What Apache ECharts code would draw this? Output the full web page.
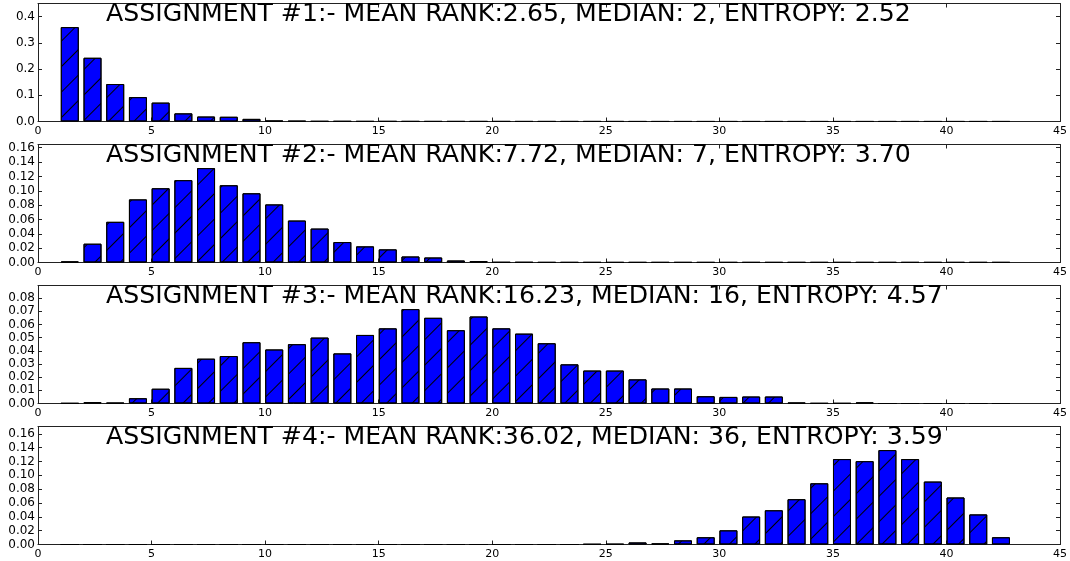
<!DOCTYPE html>
<html><head><meta charset="utf-8">
<script src="https://cdn.jsdelivr.net/npm/echarts@6/dist/echarts.min.js"></script>
<style>html,body{margin:0;padding:0;background:#fff}#c{width:1070px;height:561px}</style>
</head><body><div id="c"></div>
<script>
const ranks = [1,2,3,4,5,6,7,8,9,10,11,12,13,14,15,16,17,18,19,20,21,22,23,24,25,26,27,28,29,30,31,32,33,34,35,36,37,38,39,40,41,42];
const xTicks = [0,5,10,15,20,25,30,35,40,45];
const titles = [
  "ASSIGNMENT #1:- MEAN RANK:2.65, MEDIAN: 2, ENTROPY: 2.52",
  "ASSIGNMENT #2:- MEAN RANK:7.72, MEDIAN: 7, ENTROPY: 3.70",
  "ASSIGNMENT #3:- MEAN RANK:16.23, MEDIAN: 16, ENTROPY: 4.57",
  "ASSIGNMENT #4:- MEAN RANK:36.02, MEDIAN: 36, ENTROPY: 3.59"
];
const assign1 = [0.360,0.243,0.143,0.093,0.072,0.031,0.019,0.018,0.010,0.003,0.002,0.001,0.001,0.0008,0.0008,0.0006,0.0005,0.0005,0.0005,0.0005,0.0004,0.0004,0.0004,0.0004,0.0004,0.0003,0.0003,0.0003,0.0003,0.0003,0.0003,0.0003,0.0003,0.0003,0.0003,0.0003,0.0003,0.0003,0.0003,0.0003,0.0003,0.0003];
const assign2 = [0.0014,0.0262,0.0567,0.088,0.1035,0.1148,0.1316,0.1077,0.0965,0.081,0.0585,0.0473,0.0285,0.0225,0.0183,0.0084,0.007,0.0028,0.0019,0.0004,0.0004,0.0003,0.0003,0.0003,0.0003,0.0003,0.0003,0.0003,0.0003,0.0003,0.0003,0.0003,0.0003,0.0003,0.0003,0.0003,0.0003,0.0003,0.0003,0.0003,0.0003,0.0003];
const assign3 = [0.0002,0.001,0.0005,0.004,0.0112,0.027,0.034,0.036,0.0465,0.041,0.045,0.050,0.038,0.052,0.057,0.0716,0.065,0.0556,0.066,0.057,0.053,0.0457,0.0297,0.025,0.025,0.0183,0.0114,0.0114,0.0055,0.005,0.0053,0.0053,0.0006,0.0002,0.0002,0.0008,0,0,0,0,0,0];
const assign4 = [0,0,0,0,0,0,0,0,0,0,0,0,0,0,0,0,0,0,0,0,0,0,0,0.0005,0.0007,0.003,0.0015,0.006,0.0105,0.0205,0.0405,0.0495,0.0655,0.0885,0.1235,0.1205,0.1365,0.1235,0.091,0.068,0.0435,0.0105];
const yMax = [0.45, 0.1645, 0.0895, 0.1706];
const yInterval = [0.1, 0.02, 0.01, 0.02];
const yDecimals = [1, 2, 2, 2];
const series = [assign1, assign2, assign3, assign4];

const FONT = 'DejaVu Sans';
const chart = echarts.init(document.getElementById('c'), null, {renderer:'canvas'});
const grids=[], xAxes=[], yAxes=[], ser=[], titleArr=[];
const frame = {show:true, onZero:false, lineStyle:{color:'#222', width:1}};
const tick = {show:true, inside:true, length:4, lineStyle:{color:'#222'}};
series.forEach((vals, i) => {
  const top = 3.5 + 141*i;
  grids.push({left:38, width:1023, top:top, height:118, containLabel:false});
  xAxes.push({type:'value', gridIndex:i, min:0, max:45, interval:5, position:'bottom',
    axisLine:frame, axisTick:tick, splitLine:{show:false},
    axisLabel:{show:true, margin:4, fontFamily:FONT, fontSize:11, color:'#000',
      formatter: v => xTicks.includes(v) ? String(v) : ''}});
  xAxes.push({type:'value', gridIndex:i, min:0, max:45, interval:5, position:'top',
    axisLine:frame, axisTick:tick, splitLine:{show:false}, axisLabel:{show:false}});
  yAxes.push({type:'value', gridIndex:i, min:0, max:yMax[i], interval:yInterval[i], position:'left',
    axisLine:frame, axisTick:tick, splitLine:{show:false},
    axisLabel:{show:true, margin:3, fontFamily:FONT, fontSize:12, color:'#000', showMaxLabel:false,
      formatter: v => v.toFixed(yDecimals[i])}});
  yAxes.push({type:'value', gridIndex:i, min:0, max:yMax[i], interval:yInterval[i], position:'right',
    axisLine:frame, axisTick:tick, splitLine:{show:false}, axisLabel:{show:false}});
  ser.push({type:'bar', xAxisIndex:2*i, yAxisIndex:2*i, barWidth:18,
    data: ranks.map((r, k) => [r + 0.4, vals[k]]),
    itemStyle:{color:'#0000ff', borderColor:'#000', borderWidth:1,
      decal:{symbol:'rect', symbolSize:1, color:'#000', dashArrayX:[1,0], dashArrayY:[1,17], rotation:-Math.PI/4}},
    silent:true, animation:false});
  titleArr.push({text:titles[i], left:106, top:top - 2, padding:0,
    textStyle:{fontFamily:FONT, fontSize:25.2, fontWeight:'normal', color:'#000'}});
});
chart.setOption({animation:false, title:titleArr, grid:grids, xAxis:xAxes, yAxis:yAxes, series:ser});
</script></body></html>
